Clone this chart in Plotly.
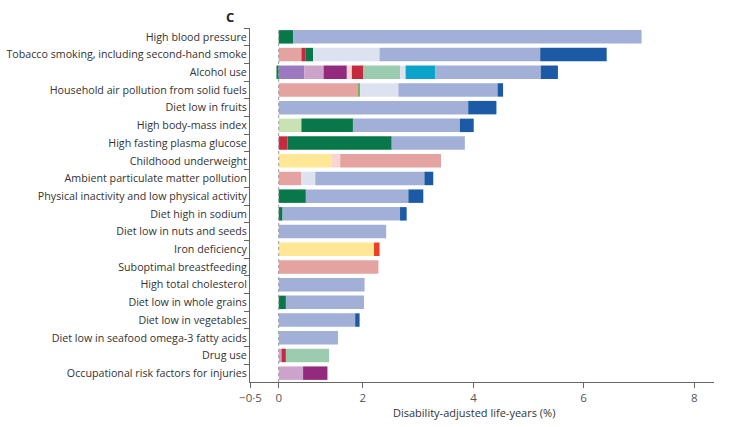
import plotly.graph_objects as go

categories = [
    "High blood pressure",
    "Tobacco smoking, including second-hand smoke",
    "Alcohol use",
    "Household air pollution from solid fuels",
    "Diet low in fruits",
    "High body-mass index",
    "High fasting plasma glucose",
    "Childhood underweight",
    "Ambient particulate matter pollution",
    "Physical inactivity and low physical activity",
    "Diet high in sodium",
    "Diet low in nuts and seeds",
    "Iron deficiency",
    "Suboptimal breastfeeding",
    "High total cholesterol",
    "Diet low in whole grains",
    "Diet low in vegetables",
    "Diet low in seafood omega-3 fatty acids",
    "Drug use",
    "Occupational risk factors for injuries",
]

# DALY share (%) by cause group, one list per segment colour (order = stack order)
yellow     = [0, 0, 0, 0, 0, 0, 0, 0.96, 0, 0, 0, 0, 1.72, 0, 0, 0, 0, 0, 0, 0]
purple     = [0, 0, 0.46, 0, 0, 0, 0, 0, 0, 0, 0, 0, 0, 0, 0, 0, 0, 0, 0, 0]
mauve      = [0, 0, 0.35, 0, 0, 0, 0, 0, 0, 0, 0, 0, 0, 0, 0, 0, 0, 0, 0.05, 0.44]
magenta    = [0, 0, 0.42, 0, 0, 0, 0, 0, 0, 0, 0, 0, 0, 0, 0, 0, 0, 0, 0, 0.44]
palepink   = [0, 0, 0.09, 0, 0, 0, 0, 0.15, 0, 0, 0, 0, 0, 0, 0, 0, 0, 0, 0, 0]
salmon     = [0, 0.41, 0, 1.42, 0, 0, 0, 1.82, 0.41, 0, 0, 0, 0, 1.80, 0, 0, 0, 0, 0, 0]
red        = [0, 0.07, 0.21, 0, 0, 0, 0.16, 0, 0, 0, 0, 0, 0, 0, 0, 0, 0, 0, 0.08, 0]
orangered  = [0, 0, 0, 0, 0, 0, 0, 0, 0, 0, 0, 0, 0.10, 0, 0, 0, 0, 0, 0, 0]
midgreen   = [0, 0, 0, 0.05, 0, 0, 0, 0, 0, 0, 0, 0, 0, 0, 0, 0, 0, 0, 0, 0]
lightgreen = [0, 0, 0, 0, 0, 0.41, 0, 0, 0, 0, 0, 0, 0, 0, 0, 0, 0, 0, 0, 0]
darkgreen  = [0.26, 0.14, -0.04, 0, 0, 0.93, 1.88, 0, 0, 0.49, 0.07, 0, 0, 0, 0, 0.13, 0, 0, 0, 0]
mint       = [0, 0, 0.66, 0, 0, 0, 0, 0, 0, 0, 0, 0, 0, 0, 0, 0, 0, 0, 0.78, 0]
lavender   = [0, 1.20, 0.10, 0.69, 0, 0, 0, 0, 0.25, 0, 0, 0, 0, 0, 0, 0, 0, 0, 0, 0]
cyan       = [0, 0, 0.54, 0, 0, 0, 0, 0, 0, 0, 0, 0, 0, 0, 0, 0, 0, 0, 0, 0]
periwinkle = [6.29, 2.90, 1.90, 1.79, 3.42, 1.93, 1.32, 0, 1.97, 1.85, 2.12, 1.94, 0, 0, 1.55, 1.41, 1.38, 1.07, 0, 0]
darkblue   = [0, 1.20, 0.31, 0.10, 0.51, 0.25, 0, 0, 0.16, 0.27, 0.12, 0, 0, 0, 0, 0, 0.08, 0, 0, 0]

TICK_POS = [-0.51, 0, 1.516, 3.516, 5.50, 7.50]
TICK_LABELS = ["\u22120\u00b75", "0", "2", "4", "6", "8"]

series = [
    ("yellow", yellow, "#FFE796"),
    ("purple", purple, "#9A79C1"),
    ("mauve", mauve, "#CDA3CC"),
    ("magenta", magenta, "#932A7D"),
    ("palepink", palepink, "#F6D5D4"),
    ("salmon", salmon, "#E4A3A1"),
    ("red", red, "#C42B3F"),
    ("orangered", orangered, "#EC4128"),
    ("midgreen", midgreen, "#78B462"),
    ("lightgreen", lightgreen, "#C8E2B4"),
    ("darkgreen", darkgreen, "#08784A"),
    ("mint", mint, "#9CCCAF"),
    ("lavender", lavender, "#DDE2F1"),
    ("cyan", cyan, "#0BA3C9"),
    ("periwinkle", periwinkle, "#A2B0D8"),
    ("darkblue", darkblue, "#1D5AA5"),
]

fig = go.Figure()
for name, vals, col in series:
    fig.add_trace(go.Bar(
        y=categories, x=vals, name=name, orientation="h",
        marker=dict(color=col, line=dict(width=0)),
        hoverinfo="x+y+name",
    ))

fig.add_shape(type="line", xref="x", yref="paper", x0=0, x1=0, y0=0, y1=1,
              line=dict(color="#9A9A9A", width=1, dash="dot"), layer="above")

fig.update_layout(
    width=732, height=427,
    margin=dict(l=250, r=18, t=28, b=45),
    barmode="relative", bargap=0.24,
    plot_bgcolor="white", paper_bgcolor="white",
    showlegend=False,
    font=dict(family="Open Sans", size=10.7, color="#333333"),
    xaxis=dict(
        range=[-0.518, 7.857], tickvals=TICK_POS, ticktext=TICK_LABELS,
        showgrid=False, zeroline=False, showline=True, linecolor="#666666", linewidth=1,
        ticks="outside", ticklen=5, tickcolor="#666666", automargin=False,
        tickfont=dict(size=11.5, color="#555555"),
    ),
    yaxis=dict(
        autorange="reversed", showgrid=False, zeroline=False,
        showline=True, linecolor="#666666", linewidth=1, automargin=False,
        ticks="outside", ticklen=5, tickcolor="#666666", tickson="boundaries",
        tickfont=dict(size=10.7, color="#333333"),
    ),
    annotations=[
        dict(text="<b>C</b>", xref="paper", yref="paper", x=-0.055, y=1.0,
             xanchor="left", yanchor="bottom", showarrow=False,
             font=dict(size=13, color="#222222")),
        dict(text="Disability-adjusted life-years (%)", xref="paper", yref="paper",
             x=0.483, y=-0.087, xanchor="center", yanchor="middle", showarrow=False,
             font=dict(size=11, color="#333333")),
    ],
)

fig.write_html("out.html", config={"displayModeBar": False},
               post_script="document.body.style.margin='0px';")
